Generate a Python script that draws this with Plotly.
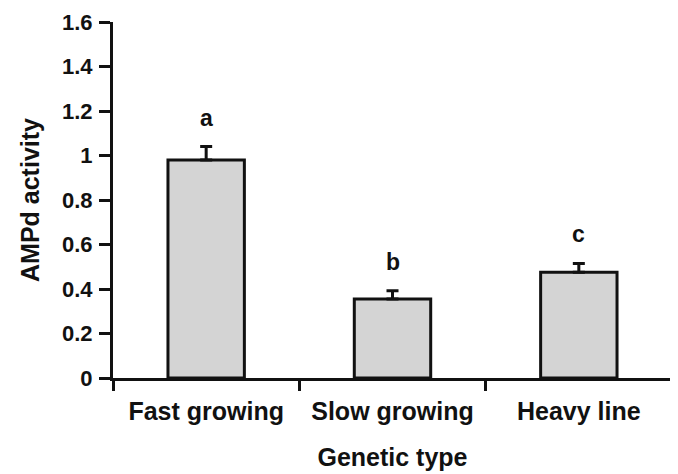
import plotly.graph_objects as go

categories = ["Fast growing", "Slow growing", "Heavy line"]
values = [0.98, 0.355, 0.475]
errors = [0.06, 0.037, 0.04]
letters = ["a", "b", "c"]
y_ticks = [0, 0.2, 0.4, 0.6, 0.8, 1, 1.2, 1.4, 1.6]

FONT = "Liberation Sans, Arial, sans-serif"
INK = "#111111"

fig = go.Figure()
fig.add_trace(go.Bar(
    x=categories, y=values, width=0.41,
    marker=dict(color="#d4d4d4", line=dict(color=INK, width=3)),
    error_y=dict(type="data", symmetric=False, array=errors,
                 arrayminus=[0] * len(errors), color=INK, thickness=3, width=6),
))

for c, v, e, t in zip(categories, values, errors, letters):
    fig.add_annotation(x=c, y=v + e, text=t, showarrow=False,
                       yanchor="bottom", yshift=14,
                       font=dict(family=FONT, size=23, color=INK, weight="bold"))

fig.update_layout(
    width=678, height=474,
    margin=dict(l=105, r=14, t=14, b=104),
    plot_bgcolor="white", paper_bgcolor="white",
    showlegend=False,
    font=dict(family=FONT, color=INK),
    xaxis=dict(
        type="category", range=[-0.5, 2.5], tickson="boundaries",
        ticks="outside", ticklen=10, tickwidth=3, tickcolor=INK,
        showline=True, linecolor=INK, linewidth=3, showgrid=False,
        automargin=False, ticklabeloverflow="allow",
        tickfont=dict(family=FONT, size=25, color=INK, weight="bold"),
        ticklabelstandoff=9,
        title=dict(text="Genetic type", standoff=25,
                   font=dict(family=FONT, size=25, color=INK, weight="bold")),
        zeroline=False,
    ),
    yaxis=dict(
        range=[0, 1.6], tickvals=y_ticks,
        ticks="outside", ticklen=11, tickwidth=3, tickcolor=INK,
        showline=True, linecolor=INK, linewidth=3, showgrid=False,
        zeroline=False, ticklabelstandoff=2, automargin=False,
        ticklabeloverflow="allow",
        tickfont=dict(family=FONT, size=22, color=INK, weight="bold"),
        title=dict(text="AMPd activity", standoff=16,
                   font=dict(family=FONT, size=25, color=INK, weight="bold")),
    ),
)

fig.write_html("out.html")
